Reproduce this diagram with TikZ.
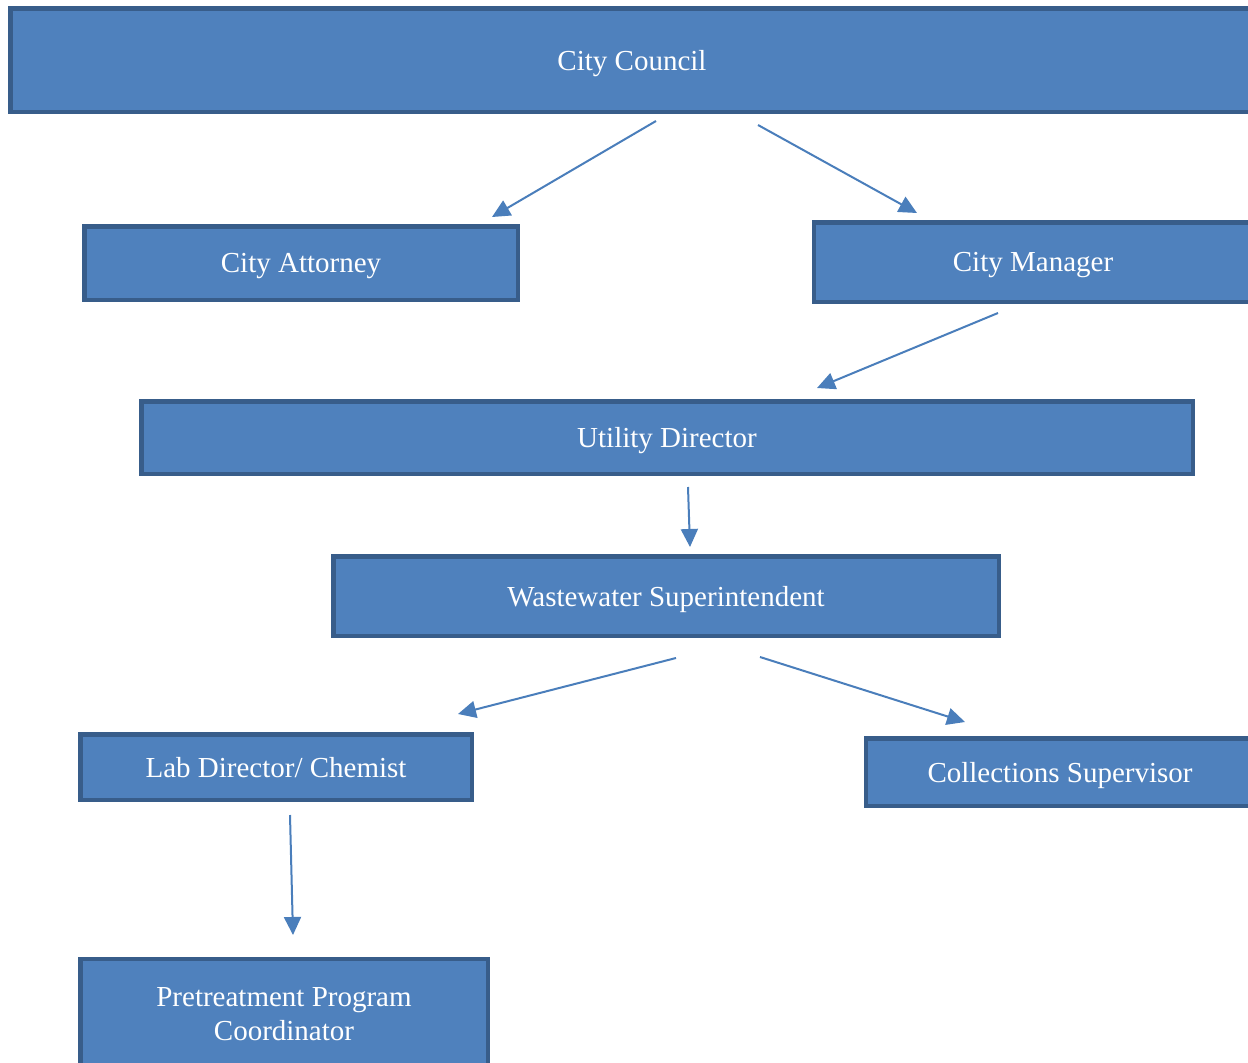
\documentclass[tikz,border=0pt]{standalone}
\usepackage{fontspec}
\setmainfont{Liberation Serif}
\usetikzlibrary{arrows.meta}
\definecolor{boxfill}{HTML}{4F81BD}
\definecolor{boxline}{HTML}{385D8A}
\definecolor{arrowc}{HTML}{4A7EBB}
\begin{document}
\begin{tikzpicture}[x=1pt,y=-1pt,
  orgbox/.style={draw=boxline, fill=boxfill, line width=4.5pt, text=white,
    font=\fontsize{29}{34}\selectfont, align=center, inner sep=0pt, outer sep=0pt},
  oneline/.style={orgbox, text depth=0pt},
  link/.style={draw=arrowc, line width=2pt, -{Triangle[length=18pt,width=17pt]}}]
\useasboundingbox (0,0) rectangle (1248,1063);
\clip (0,0) rectangle (1248,1063);
\node[oneline, minimum width=1243.5pt, minimum height=103.5pt] (cc) at (632,60) {City Council};
\node[oneline, minimum width=433.5pt, minimum height=73.5pt] (ca) at (301,263) {City Attorney};
\node[oneline, minimum width=438pt, minimum height=79.5pt] (cm) at (1033,262) {City Manager};
\node[oneline, minimum width=1051.5pt, minimum height=72.5pt] (ud) at (667,437.5) {Utility Director};
\node[oneline, minimum width=665.5pt, minimum height=79.5pt] (ws) at (666,596) {Wastewater Superintendent};
\node[oneline, minimum width=391.5pt, minimum height=65.5pt] (ld) at (276,767) {Lab Director/ Chemist};
\node[oneline, minimum width=387.75pt, minimum height=67.5pt] (cs) at (1060,772) {Collections Supervisor};
\node[orgbox, minimum width=407.5pt, minimum height=110pt] (pp) at (284,1014) {Pretreatment Program\\Coordinator};
% arrow end points
\coordinate (a1s) at (656,121); \coordinate (a1e) at (492,217);
\coordinate (a2s) at (758,125); \coordinate (a2e) at (917,213);
\coordinate (a3s) at (998,313); \coordinate (a3e) at (817,388);
\coordinate (a4s) at (688,487); \coordinate (a4e) at (690,547);
\coordinate (a5s) at (676,658); \coordinate (a5e) at (458,714);
\coordinate (a6s) at (760,657); \coordinate (a6e) at (965,722);
\coordinate (a7s) at (290,815); \coordinate (a7e) at (293,935);
\draw[link] (a1s) -- (a1e);
\draw[link] (a2s) -- (a2e);
\draw[link] (a3s) -- (a3e);
\draw[link] (a4s) -- (a4e);
\draw[link] (a5s) -- (a5e);
\draw[link] (a6s) -- (a6e);
\draw[link] (a7s) -- (a7e);
\end{tikzpicture}
\end{document}
